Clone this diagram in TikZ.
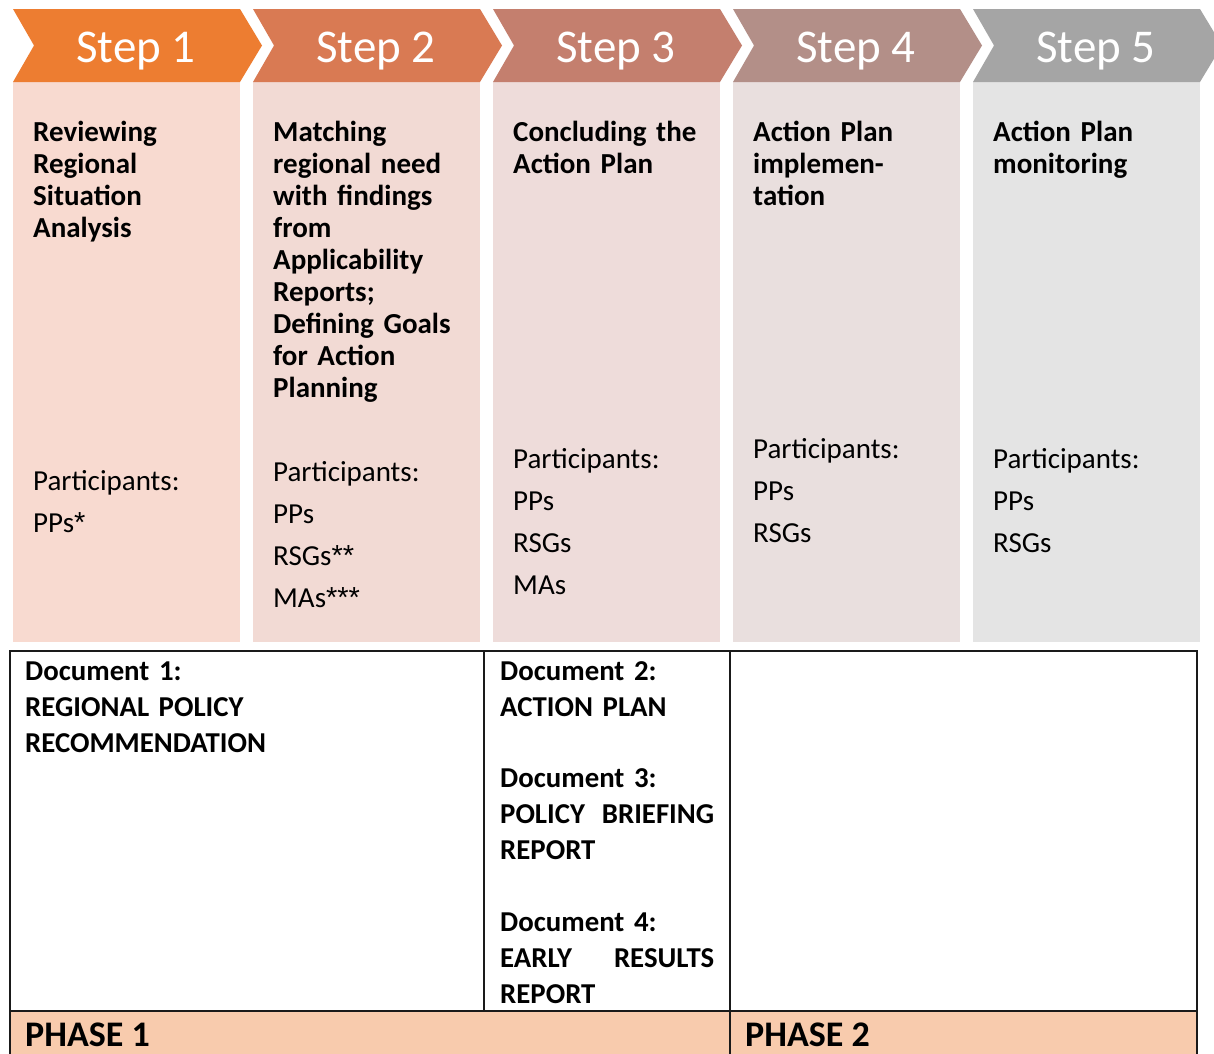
\documentclass[tikz,border=0pt]{standalone}
\usepackage{fontspec}
\setmainfont{Carlito}
\newfontfamily\starfont{Liberation Sans}

% chevron fills
\definecolor{chevA}{HTML}{ED7D31}
\definecolor{chevB}{HTML}{D97A53}
\definecolor{chevC}{HTML}{C47F6E}
\definecolor{chevD}{HTML}{B38F88}
\definecolor{chevE}{HTML}{A5A5A5}
% column fills
\definecolor{colA}{HTML}{F8DAD0}
\definecolor{colB}{HTML}{F2DAD4}
\definecolor{colC}{HTML}{EEDCDA}
\definecolor{colD}{HTML}{E9DFDE}
\definecolor{colE}{HTML}{E4E4E4}
\definecolor{phasefill}{HTML}{F8CBAD}
\definecolor{rulecol}{HTML}{1A1A1A}

\newcommand{\spreadline}[2]{\leavevmode\hbox to \linewidth{#1\hfill #2}}
\newcommand{\stars}[1]{{\starfont #1}}

\begin{document}
\begin{tikzpicture}[x=1pt,y=-1pt,
  steplabel/.style={anchor=base, inner sep=0pt, text=white,
    font=\fontsize{47}{50}\selectfont},
  titletext/.style={anchor=base west, inner sep=0pt, text width=215pt,
    align=left, font=\bfseries\fontsize{29}{32}\selectfont},
  parttext/.style={anchor=base west, inner sep=0pt, text width=215pt,
    align=left, font=\fontsize{29}{42}\selectfont},
  doctext/.style={anchor=base west, inner sep=0pt, text width=214pt,
    align=left, font=\bfseries\fontsize{28.8}{36}\selectfont},
  phasetext/.style={anchor=base west, inner sep=0pt,
    font=\bfseries\fontsize{36}{40}\selectfont},
  tableline/.style={draw=rulecol, line width=1.4pt}]

\path[use as bounding box] (0,0) rectangle (1214,1053);
\clip (0,0) rectangle (1214,1053);
\fill[white] (0,0) rectangle (1214,1053);

% five step columns with their chevron headers
\foreach \k/\chev/\body in {1/chevA/colA, 2/chevB/colB, 3/chevC/colC,
                             4/chevD/colD, 5/chevE/colE} {
  \pgfmathsetmacro\dx{240*(\k-1)}
  \fill[\body] (13+\dx,82) rectangle (240+\dx,642);
  \fill[\chev] (13+\dx,9) -- (240+\dx,9) -- (262+\dx,45.5) -- (240+\dx,82)
    -- (13+\dx,82) -- (34+\dx,45.5) -- cycle;
  \node[steplabel] (step\k) at (136+\dx,62) {Step \k};
}

% step descriptions
\node[titletext] (title1) at (33,141)
  {Reviewing\\Regional\\Situation\\Analysis};
\node[titletext] (title2) at (273,141)
  {Matching\\regional need\\with findings\\from\\Applicability\\Reports;\\Defining Goals\\for Action\\Planning};
\node[titletext] (title3) at (513,141) {Concluding the\\Action Plan};
\node[titletext] (title4) at (753,141) {Action Plan\\implemen-\\tation};
\node[titletext] (title5) at (993,141) {Action Plan\\monitoring};

% participants
\node[parttext] (part1) at (33,490) {Participants:\\PPs\stars{*}};
\node[parttext] (part2) at (273,481)
  {Participants:\\PPs\\RSGs\stars{**}\\MAs\stars{***}};
\node[parttext] (part3) at (513,468) {Participants:\\PPs\\RSGs\\MAs};
\node[parttext] (part4) at (753,458) {Participants:\\PPs\\RSGs};
\node[parttext] (part5) at (993,468) {Participants:\\PPs\\RSGs};

% documents and phases table
\fill[phasefill] (10,1011) rectangle (1197,1070);
\draw[tableline] (10,651) rectangle (1197,1070);
\draw[tableline] (10,1011) -- (1197,1011);
\draw[tableline] (484,651) -- (484,1011);
\draw[tableline] (730,651) -- (730,1070);

\node[doctext, text width=440pt] (doc1) at (25,680)
  {Document 1:\\REGIONAL POLICY\\RECOMMENDATION};
\node[doctext] (doc2) at (500,680) {Document 2:\\ACTION PLAN};
\node[doctext] (doc3) at (500,787)
  {Document 3:\\\spreadline{POLICY}{BRIEFING}\\REPORT};
\node[doctext] (doc4) at (500,931)
  {Document 4:\\\spreadline{EARLY}{RESULTS}\\REPORT};

\node[phasetext] (phase1) at (25,1046) {PHASE 1};
\node[phasetext] (phase2) at (745,1046) {PHASE 2};
\end{tikzpicture}
\end{document}
